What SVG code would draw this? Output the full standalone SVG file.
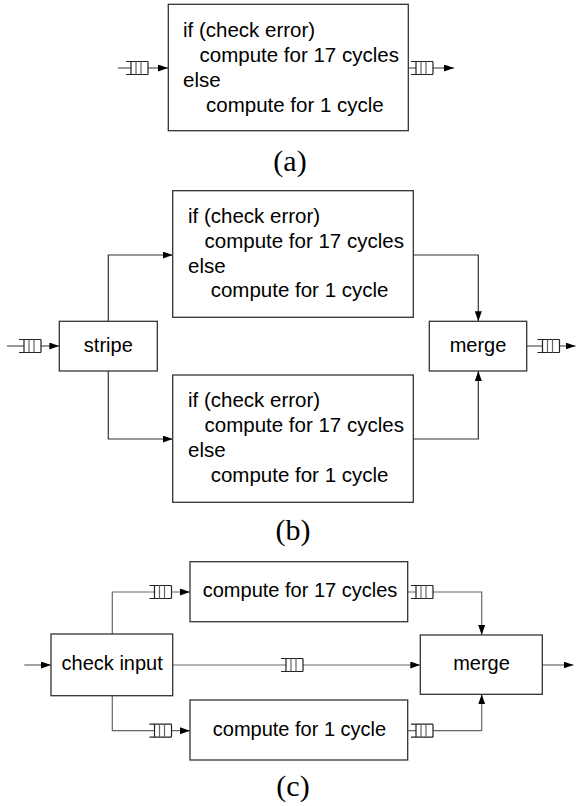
<svg xmlns="http://www.w3.org/2000/svg" xmlns:xlink="http://www.w3.org/1999/xlink" width="576" height="806" viewBox="0 0 576 806">
  <style>
    .box { fill: #ffffff; stroke: #333333; stroke-width: 1.3; }
    .lbl { font-family: "Liberation Sans", Arial, Helvetica, sans-serif; font-size: 20.5px; fill: #000000; }
    .lbl-c { font-family: "Liberation Sans", Arial, Helvetica, sans-serif; font-size: 20px; fill: #000000; }
    .mid { text-anchor: middle; }
    .cap { font-family: "Liberation Serif", "Times New Roman", serif; font-size: 30px; fill: #000000; text-anchor: middle; }
    .wire { fill: none; stroke: #333333; stroke-width: 1.2; }
    .wire-c { fill: none; stroke: #666666; stroke-width: 1.2; }
    .arrow { marker-end: url(#head); }
  </style>
  <defs>
    <marker id="head" viewBox="0 0 10 7" refX="10" refY="3.5" markerWidth="10" markerHeight="7" markerUnits="userSpaceOnUse" orient="auto">
      <path d="M0,0 L10,3.5 L0,7 z" fill="#000000"/>
    </marker>
    <!-- FIFO queue glyph, origin at the left end of its centre line -->
    <g id="queue">
      <rect x="5" y="-6.5" width="17" height="13" fill="#ffffff"/>
      <path d="M0,-6.5H22M0,6.5H22M5,-6.5V6.5M22,-6.5V6.5" fill="none" stroke="#222222" stroke-width="1.2"/>
      <path d="M10,-6.5V6.5M15,-6.5V6.5" fill="none" stroke="#666666" stroke-width="1.2"/>
    </g>
  </defs>

  <rect width="576" height="806" fill="#ffffff"/>

  <!-- (a) single worker -->
  <g id="connectors-a">
    <path class="wire arrow" d="M118,68 H168"/>
    <path class="wire arrow" d="M408,68 H454"/>
    <use xlink:href="#queue" x="126" y="68"/>
    <use xlink:href="#queue" x="411" y="68"/>
  </g>
  <g id="worker-a">
    <rect class="box" x="168.3" y="4.3" width="240" height="126.4"/>
    <text class="lbl" x="183" y="36.7">if (check error)</text>
    <text class="lbl" x="199.5" y="62">compute for 17 cycles</text>
    <text class="lbl" x="183" y="86.5">else</text>
    <text class="lbl" x="206" y="111.5">compute for 1 cycle</text>
  </g>
  <text id="caption-a" class="cap" x="290" y="171">(a)</text>

  <!-- (b) striped across two workers -->
  <g id="connectors-b">
    <path class="wire arrow" d="M7,346 H59.3"/>
    <path class="wire arrow" d="M108.3,321.3 V255 H172.7"/>
    <path class="wire arrow" d="M108.3,371 V439 H172.7"/>
    <path class="wire arrow" d="M413.3,255 H478.3 V321.3"/>
    <path class="wire arrow" d="M413.3,439 H478.3 V371"/>
    <path class="wire arrow" d="M526.7,346 H575.5"/>
    <use xlink:href="#queue" x="19" y="346"/>
    <use xlink:href="#queue" x="537.5" y="346"/>
  </g>
  <g id="stripe">
    <rect class="box" x="59.3" y="321.3" width="98" height="49.7"/>
    <text class="lbl-c mid" x="108.3" y="351.7">stripe</text>
  </g>
  <g id="worker-b-top">
    <rect class="box" x="172.7" y="190.7" width="240.6" height="126.6"/>
    <text class="lbl" x="188" y="223">if (check error)</text>
    <text class="lbl" x="204.5" y="247.8">compute for 17 cycles</text>
    <text class="lbl" x="188" y="272.7">else</text>
    <text class="lbl" x="210.7" y="297.2">compute for 1 cycle</text>
  </g>
  <g id="worker-b-bottom">
    <rect class="box" x="172.7" y="375" width="240.6" height="127.3"/>
    <text class="lbl" x="188" y="407.3">if (check error)</text>
    <text class="lbl" x="204.5" y="432.1">compute for 17 cycles</text>
    <text class="lbl" x="188" y="457">else</text>
    <text class="lbl" x="210.7" y="481.5">compute for 1 cycle</text>
  </g>
  <g id="merge-b">
    <rect class="box" x="429.3" y="321.3" width="97.4" height="49.7"/>
    <text class="lbl-c mid" x="478" y="351.7">merge</text>
  </g>
  <text id="caption-b" class="cap" x="293" y="540">(b)</text>

  <!-- (c) split on the error check -->
  <g id="connectors-c">
    <path class="wire-c arrow" d="M24.3,665 H51"/>
    <path class="wire-c arrow" d="M112.3,634 V592 H190"/>
    <path class="wire-c arrow" d="M112.3,695.7 V730.7 H190"/>
    <path class="wire-c arrow" d="M172.7,665 H420.3"/>
    <path class="wire-c arrow" d="M407.7,592 H481.7 V635"/>
    <path class="wire-c arrow" d="M407.7,730.7 H481.7 V694.3"/>
    <path class="wire-c arrow" d="M542.3,665 H573.5"/>
    <use xlink:href="#queue" x="149.5" y="592"/>
    <use xlink:href="#queue" x="149.5" y="730.7"/>
    <use xlink:href="#queue" x="281" y="665"/>
    <use xlink:href="#queue" x="411" y="592"/>
    <use xlink:href="#queue" x="411" y="730.7"/>
  </g>
  <g id="check-input">
    <rect class="box" x="51" y="634" width="121.7" height="61.7"/>
    <text class="lbl-c mid" x="112.2" y="670">check input</text>
  </g>
  <g id="compute-17">
    <rect class="box" x="190" y="561.7" width="217.7" height="60"/>
    <text class="lbl-c mid" x="300" y="596.7">compute for 17 cycles</text>
  </g>
  <g id="compute-1">
    <rect class="box" x="190" y="700" width="217.7" height="60"/>
    <text class="lbl-c mid" x="299.5" y="735.7">compute for 1 cycle</text>
  </g>
  <g id="merge-c">
    <rect class="box" x="420.3" y="635" width="122" height="59.3"/>
    <text class="lbl-c mid" x="481.5" y="670">merge</text>
  </g>
  <text id="caption-c" class="cap" x="293" y="796">(c)</text>
</svg>
